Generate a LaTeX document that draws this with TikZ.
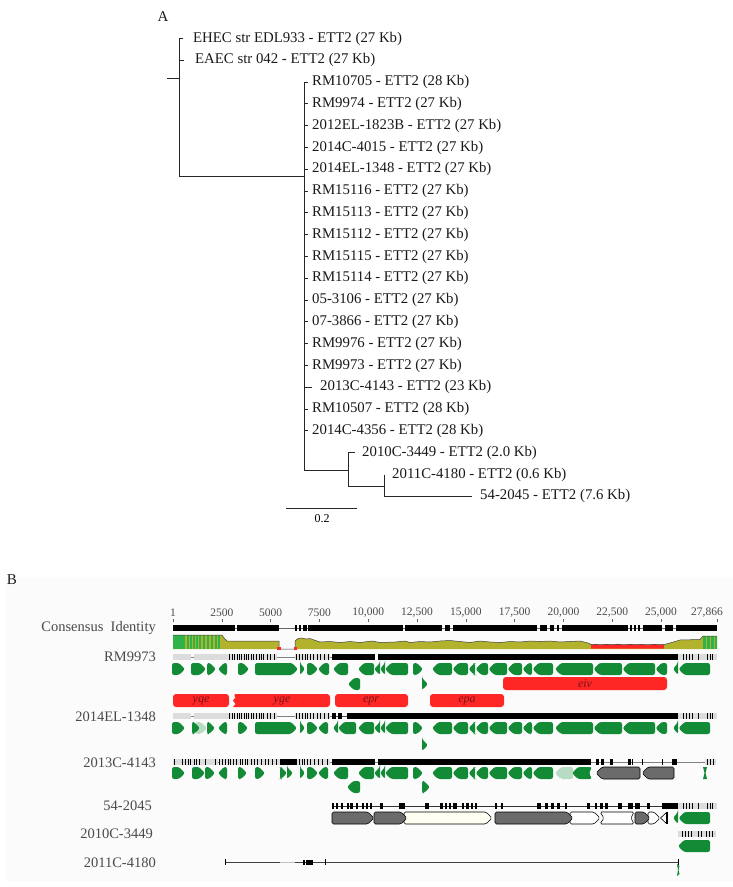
\documentclass[tikz,border=0pt]{standalone}
\usepackage{fontspec}
\setmainfont{Liberation Serif}
\definecolor{geneG}{HTML}{138A36}
\definecolor{oliv}{HTML}{B3B22C}
\definecolor{brg}{HTML}{2DB34A}
\definecolor{annR}{HTML}{FF2626}
\definecolor{annT}{HTML}{7A1515}
\definecolor{labG}{HTML}{4A4A4A}
\definecolor{gGray}{HTML}{6B6B6B}
\definecolor{lgray}{HTML}{DCDCDC}
\definecolor{cream}{HTML}{FFFFF2}
\newcommand\geneR[4][gene]{%
  \pgfmathsetmacro\hd{min(6,#3-#2)}%
  \path[#1] (#2,{#4-6}) -- ({#3-\hd},{#4-6}) -- (#3,#4) -- ({#3-\hd},{#4+6}) -- (#2,{#4+6}) -- cycle;}
\newcommand\geneL[4][gene]{%
  \pgfmathsetmacro\hd{min(6,#3-#2)}%
  \path[#1] (#3,{#4-6}) -- ({#2+\hd},{#4-6}) -- (#2,#4) -- ({#2+\hd},{#4+6}) -- (#3,{#4+6}) -- cycle;}
\newcommand\bseg[3]{\fill (#1,{#3-2.8}) rectangle (#2,{#3+2.8});}
\newcommand\lseg[3]{\fill[lgray] (#1,{#3-2.8}) rectangle (#2,{#3+2.8});}
\newcommand\tk[2]{\fill (#1,{#2-2.8}) rectangle ({#1+1.2},{#2+2.8});}
\newcommand\tailgenes[1]{%
  \geneL{432}{452}{#1}\geneL{452.5}{468}{#1}\geneL{468.5}{475}{#1}\geneL{475.5}{488}{#1}%
  \geneL{488.5}{507}{#1}\geneL{507.5}{522}{#1}\geneL{522.5}{532}{#1}\geneL{532.5}{553}{#1}}
\newcommand\lastgenes[1]{%
  \geneL{555}{593}{#1}\geneL{593.5}{622}{#1}\geneL{622.5}{655}{#1}\geneL{655.5}{667}{#1}%
  \geneL{673}{678}{#1}\geneL{678.5}{710}{#1}}
\newcommand\leftbar[1]{%
  \draw[black!50, line width=0.5pt] (173,#1) -- (332,#1);
  \lseg{173}{191}{#1}\lseg{194}{277}{#1}\lseg{295}{330}{#1}
  \foreach \x in {229,231.5,234,237,238.5,241,244,245.5,248,251,252.5,256,259,260.5,263,266.5,270,273.5}{\tk{\x}{#1}}
  \foreach \x in {296,299,302,305,306.5,310,313,316.5,320,324,328}{\tk{\x}{#1}}}
\newcommand\rightbar[1]{%
  \lseg{678}{717}{#1}
  \foreach \x in {683,686,689,692,698,707,709.5,712}{\tk{\x}{#1}}}
\begin{document}
\begin{tikzpicture}[x=1pt,y=-1pt,
  lab/.style={font=\fontsize{14.8}{17}\selectfont, inner sep=0pt, anchor=west, text=black!90},
  blab/.style={font=\fontsize{14.5}{17}\selectfont, inner sep=0pt, anchor=east, text=labG},
  rlab/.style={font=\fontsize{11.5}{13}\selectfont, inner sep=0pt, text=labG},
  plab/.style={font=\fontsize{15}{17}\selectfont, inner sep=0pt, text=black!90},
  alab/.style={font=\fontsize{12}{13}\itshape, inner sep=0pt, text=annT},
  tl/.style={line width=0.9pt, draw=black!85},
  gene/.style={fill=geneG, rounded corners=2.2pt},
  pale/.style={fill=geneG!30, rounded corners=2pt},
  ggray/.style={fill=gGray, draw=black, line width=0.6pt, rounded corners=1.5pt},
  gwhite/.style={fill=white, draw=black, line width=0.6pt, rounded corners=1.5pt},
  gcream/.style={fill=cream, draw=black, line width=0.6pt, rounded corners=1.5pt},
  idl/.style={draw=black!75, line width=0.5pt},
  ann/.style={fill=annR, rounded corners=3pt}]
\useasboundingbox (0,0) rectangle (733,887);
\fill[white] (0,0) rectangle (733,887);

% ================= Panel A: tree =================
\node[plab] (A) at (163,17) {A};
\node[lab] (t0) at (193,38.5) {EHEC str EDL933 - ETT2 (27 Kb)};
\node[lab] (t1) at (195,60.3) {EAEC str 042 - ETT2 (27 Kb)};
\foreach \i/\yy/\t in {2/82.1/RM10705 - ETT2 (28 Kb),3/103.9/RM9974 - ETT2 (27 Kb),
  4/125.7/2012EL-1823B - ETT2 (27 Kb),5/147.5/2014C-4015 - ETT2 (27 Kb),
  6/169.3/2014EL-1348 - ETT2 (27 Kb),7/191.1/RM15116 - ETT2 (27 Kb),
  8/212.9/RM15113 - ETT2 (27 Kb),9/234.7/RM15112 - ETT2 (27 Kb),
  10/256.5/RM15115 - ETT2 (27 Kb),11/278.3/RM15114 - ETT2 (27 Kb),
  12/300.1/05-3106 - ETT2 (27 Kb),13/321.9/07-3866 - ETT2 (27 Kb),
  14/343.7/RM9976 - ETT2 (27 Kb),15/365.5/RM9973 - ETT2 (27 Kb),
  17/409.1/RM10507 - ETT2 (28 Kb),18/430.9/2014C-4356 - ETT2 (28 Kb)}
  {\node[lab] (t\i) at (312,\yy) {\t};
   \draw[tl] (304,\yy) -- (308,\yy);}
\node[lab] (t16) at (320,387.3) {2013C-4143 - ETT2 (23 Kb)};
\node[lab] (t19) at (362,452.7) {2010C-3449 - ETT2 (2.0 Kb)};
\node[lab] (t20) at (392,474.5) {2011C-4180 - ETT2 (0.6 Kb)};
\node[lab] (t21) at (480,496.3) {54-2045 - ETT2 (7.6 Kb)};
\coordinate (root) at (167,78);
\coordinate (n1) at (179,78);
\draw[tl] (root) -- (n1);
\draw[tl] (183,38.5) -- (179,38.5) -- (179,176) -- (304,176);
\draw[tl] (179,60.3) -- (184,60.3);
\draw[tl] (304,82) -- (304,470) -- (348,470);
\draw[tl] (304,387.3) -- (312,387.3);
\draw[tl] (355,452.7) -- (348,452.7) -- (348,486) -- (384,486);
\draw[tl] (384,474.5) -- (384,496.3) -- (472,496.3);
\draw[tl] (286,508) -- (357,508);
\node[font=\fontsize{12}{13}\selectfont, inner sep=0pt] (sc) at (322,519) {0.2};

% ================= Panel B =================
\fill[black!1.5] (6,578) rectangle (733,881);
\node[plab] (B) at (12,580) {B};

% ruler (positions in thousands)
\node[rlab] (r1) at (173,613) {1};
\draw[black!60, line width=0.5pt] (173,619) -- (173,622);
\foreach \p/\t in {2.5/2500,5/5000,7.5/7500,10/{10,000},12.5/{12,500},15/{15,000},17.5/{17,500},20/{20,000},22.5/{22,500},25/{25,000}}{
  \pgfmathsetmacro\xx{173+\p*19.5227-0.0195}
  \node[rlab] at (\xx,613) {\t};
  \draw[black!60, line width=0.5pt] (\xx,619) -- (\xx,622);}
\node[rlab] (rend) at (707,613) {27,866};
\draw[black!60, line width=0.5pt] (717,619) -- (717,622);

% labels
\node[blab] (lc) at (156,628) {Consensus\ \ Identity};
\node[blab] (l1) at (156,657) {RM9973};
\node[blab] (l2) at (156,717) {2014EL-1348};
\node[blab] (l3) at (156,763) {2013C-4143};
\node[blab] (l4) at (152,806) {54-2045};
\node[blab] (l5) at (153,834) {2010C-3449};
\node[blab] (l6) at (156,863) {2011C-4180};

% consensus bar
\draw[black!60, line width=0.5pt] (173,628) -- (717,628);
\fill (173,625) rectangle (235,631);
\fill (237,625) rectangle (279,631);
\foreach \a/\b in {295/297,299/301,303/306.5,308/403,405/442,445/450,453/537,540/547,550/554,557/559,562/628,630/632,634/636,638/640,643/662,665/673,676/717}
  {\fill (\a,625) rectangle (\b,631);}

% identity plot
\fill[oliv] (173,649) -- (173,635) -- (222,635) -- (224,638) -- (227,641) -- (279,641) -- (279,649) -- cycle;
\fill[brg] (173,635) rectangle (185,649);
\foreach \x in {187,190,193,196,199,203,207,211,215,218}{\fill[brg] (\x,635) rectangle ({\x+1.6},649);}
\fill[oliv] (295,649) -- (295,641) -- (298,638.5) -- (302,638) -- (306,639) -- (310,638.5) -- (314,640) -- (320,642) -- (330,641.5) -- (340,642.5) -- (350,641.5) -- (360,642.5) -- (372,641) -- (380,642.5) -- (395,642) -- (405,641) -- (410,642.5) -- (420,641.5) -- (430,642) -- (440,641) -- (450,640.5) -- (460,641.5) -- (470,642.5) -- (480,641) -- (490,642) -- (500,642.5) -- (510,641.5) -- (520,642) -- (530,641) -- (540,641.5) -- (550,641) -- (560,642) -- (570,641.5) -- (580,641) -- (588,643) -- (591,644.5) -- (664,644.5) -- (670,643) -- (680,640) -- (700,639.5) -- (703,636) -- (717,636) -- (717,649) -- cycle;
\fill[annR] (591,648.5) -- (591,645) -- (596,644) -- (600,645.5) -- (606,644) -- (612,645) -- (618,643.8) -- (624,645.5) -- (630,644) -- (636,645) -- (642,644.2) -- (648,645.5) -- (654,644) -- (660,645) -- (664,644.5) -- (664,648.5) -- cycle;
\fill[brg] (703,636) rectangle (717,649);
\foreach \x in {706,709.5,713.5}{\fill[oliv] (\x,636) rectangle ({\x+1.2},649);}
\draw[idl] (173,635) -- (222,635) -- (224,638) -- (227,641) -- (279,641) -- (279,649) -- (295,649) -- (295,641) -- (298,638.5) -- (302,638) -- (306,639) -- (310,638.5) -- (314,640) -- (320,642) -- (330,641.5) -- (340,642.5) -- (350,641.5) -- (360,642.5) -- (372,641) -- (380,642.5) -- (395,642) -- (405,641) -- (410,642.5) -- (420,641.5) -- (430,642) -- (440,641) -- (450,640.5) -- (460,641.5) -- (470,642.5) -- (480,641) -- (490,642) -- (500,642.5) -- (510,641.5) -- (520,642) -- (530,641) -- (540,641.5) -- (550,641) -- (560,642) -- (570,641.5) -- (580,641) -- (588,643) -- (591,644.5) -- (664,644.5) -- (670,643) -- (680,640) -- (700,639.5) -- (703,636) -- (717,636);
\fill[annR] (277,646.5) rectangle (280.5,649.5);
\fill[annR] (293.5,646.5) rectangle (297,649.5);

% ----- RM9973 -----
\leftbar{657}
\bseg{332}{375}{657}\bseg{378}{678}{657}
\rightbar{657}
\geneR{172}{185}{669}\geneR{191}{206}{669}\geneR{207}{216}{669}\geneL{218}{227}{669}
\geneR{238}{249}{669}\geneR{255}{298}{669}\geneR{300}{305}{669}\geneR{307}{318}{669}
\geneL{318}{329}{669}\geneL{333}{348}{669}\geneL{358}{374}{669}\geneL{374}{380}{669}
\geneL{380}{385}{669}\geneL{385}{408}{669}\geneR{413}{423}{669}
\tailgenes{669}\lastgenes{669}
\geneL{348}{360}{684}\geneR{422}{428}{684}

% annotations
\fill[ann] (503,677) rectangle (667,690);
\node[alab] (aeiv) at (585,683.5) {eiv};
\fill[ann] (173,694) rectangle (229,707);
\node[alab] (ayqe) at (201,700.5) {yqe};
\fill[annR, rounded corners=3pt] (330,694) -- (233,694) [sharp corners] -- (235.5,697.5) -- (233,700.5) -- (235.5,704) -- (233,707) [rounded corners=3pt] -- (330,707) -- cycle;
\node[alab] (ayge) at (282,700.5) {yge};
\fill[ann] (335,694) rectangle (408,707);
\node[alab] (aepr) at (371,700.5) {epr};
\fill[ann] (430,694) rectangle (504,707);
\node[alab] (aepa) at (467,700.5) {epa};

% ----- 2014EL-1348 -----
\leftbar{716}
\draw[black!70, line width=0.6pt] (332,716) -- (347,716);
\bseg{332}{335.5}{716}\bseg{338}{342}{716}\bseg{347}{678}{716}
\rightbar{716}
\geneR{172}{185}{728}\geneR[pale]{196}{207}{728}\geneR{192}{200}{728}\geneR{207}{215}{728}
\geneL{218}{227}{728}\geneR{238}{248}{728}\geneR{255}{297}{728}\geneR{300}{305}{728}
\geneR{307}{318}{728}\geneL{318}{328}{728}\geneL{333}{338}{728}\geneL{338}{356}{728}
\geneL{358}{374}{728}\geneL{374}{380}{728}\geneL{380}{385}{728}\geneL{385}{408}{728}
\geneR{413}{423}{728}
\tailgenes{728}\lastgenes{728}
\geneR{422}{428}{745}

% ----- 2013C-4143 -----
\draw[black!50, line width=0.5pt] (173,762) -- (705,762);
\lseg{173}{218}{762}\lseg{220}{280}{762}\lseg{297}{330}{762}
\foreach \x in {174,182,184.5,188,190,193.5,196,199,205,214.5,219,222,225,227.5,230,232.5,236,240,241.5,245,247,250.5,253.5,257,261,265,268,272,276}{\tk{\x}{762}}
\bseg{280}{297}{762}
\foreach \x in {299,301.5,304,307,310,314,318,322,327}{\tk{\x}{762}}
\bseg{332}{375}{762}\bseg{378}{591}{762}
\foreach \a/\b in {596/598.5,601/603.5,610/612.5,628/630.5,631.5/633,641.5/642.8,661.5/662.8,672/677}{\bseg{\a}{\b}{762}}
\lseg{705}{716}{762}
\foreach \x in {707,710,713}{\tk{\x}{762}}
\geneR{172}{185}{773}\geneR{192}{205}{773}\geneR{205}{215}{773}\geneL{218}{227}{773}
\geneR{238}{247}{773}\geneR{255}{265}{773}\geneR{280}{287}{773}\geneR{287}{293}{773}
\geneR{300}{305}{773}\geneR{307}{318}{773}\geneL{318}{328}{773}\geneL{333}{348}{773}
\geneL{358}{374}{773}\geneL{374}{380}{773}\geneL{380}{385}{773}\geneL{385}{408}{773}
\geneR{413}{423}{773}
\tailgenes{773}
\geneL[pale]{555}{573}{773}
\path[gene] (592,767) -- (578,767) -- (572,773) -- (578,779) -- (592,779) -- (589,773) -- cycle;
\geneL[ggray]{596}{640}{773}\geneL[ggray]{642}{674}{773}
\fill[geneG] (703,767) -- (707,767) -- (705.5,773) -- (707,779) -- (703,779) -- (704.5,773) -- cycle;
\geneL{347}{360}{787}\geneR{422}{430}{787}

% ----- 54-2045 -----
\draw[black!80, line width=0.6pt] (332,806) -- (678,806);
\foreach \a/\b in {332/333.5,336/338,341/343,347/348.5,350/353,356/358,362/364,366/367.5,370/371.5,380/383,399/405,425/429,440/443,445/447,449/451,453/457,462/464,466/469,471/473,475/477,495/497,501/503,537/541,545/548,551/554,557/560,565/567,587/590,595/597,600/603,605/608,618/622,628/633,635/640,647/650,662/678}
  {\fill (\a,{806-2.8}) rectangle (\b,{806+2.8});}
\rightbar{806}
\geneR[gcream]{404}{492}{818}
\geneR[ggray]{332}{374}{818}
\geneR[ggray]{374}{407}{818}
\geneR[gwhite]{570}{600}{818}
\geneR[ggray]{495}{573}{818}
\path[gwhite] (600,812) -- (634,812) -- (631,818) -- (634,824) -- (600,824) -- (604,818) -- cycle;
\geneR[gwhite]{648}{660}{818}
\geneR[ggray]{635}{650}{818}
\draw[black, line width=0.6pt] (667,812) -- (660.5,818) -- (667,824);
\draw[black, line width=1.2pt] (667,812) -- (667,824);
\geneL{673}{678}{818}\geneL{678.5}{710}{818}

% ----- 2010C-3449 -----
\lseg{678}{716}{834}
\foreach \x in {682,685,688,691,698,701,706,709,712}{\tk{\x}{834}}
\geneL{678}{710}{846}

% ----- 2011C-4180 -----
\draw[black!75, line width=0.6pt] (225,862) -- (280,862);
\draw[black!25, line width=0.6pt] (280,862) -- (295,862);
\draw[black!75, line width=0.6pt] (295,862) -- (678,862);
\fill (224.5,859) rectangle (226,865);
\fill (303,859.5) rectangle (304.5,864.5);
\fill (306,859.5) rectangle (313,864.5);
\fill (324.5,859) rectangle (326,865);
\fill (677.5,859) rectangle (678.7,865);
\fill[geneG] (677,864) -- (679.5,866) -- (678.5,870) -- (679.5,874) -- (677,876) -- (678,870) -- cycle;
\end{tikzpicture}
\end{document}
